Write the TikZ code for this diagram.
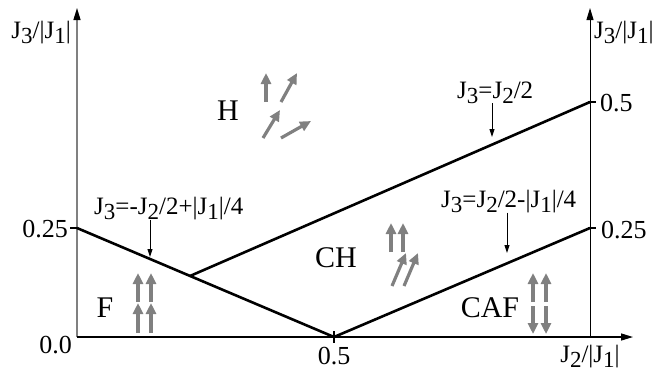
\documentclass[tikz,border=0pt]{standalone}
\usepackage{fontspec}
\setmainfont{Liberation Serif}
\usetikzlibrary{arrows.meta,calc}
\newcommand{\lo}[1]{\raisebox{-5pt}{\scalebox{0.92}{#1}}}

\begin{document}
\begin{tikzpicture}[x=1pt,y=-1pt,
    axis/.style={line width=1.3pt,-{Triangle[length=12pt,width=7pt,color=black]}},
    bound/.style={line width=2.6pt},
    spin/.style={gray,line width=3.2pt,-{Triangle[length=11pt,width=10pt]}},
    pointer/.style={line width=1pt,-{Triangle[length=8pt,width=5pt]}},
    tick/.style={line width=1.3pt},
    txt/.style={inner sep=0pt,font=\fontsize{25}{29}\selectfont},
    num/.style={inner sep=0pt,font=\fontsize{26}{30}\selectfont},
    phase/.style={inner sep=0pt,font=\fontsize{30}{34}\selectfont}]

\useasboundingbox (0,0) rectangle (660,373);

\coordinate (O) at (77,337);
\coordinate (ytop) at (77,8);
\coordinate (xend) at (633,337);
\coordinate (R) at (590,337);
\coordinate (rtop) at (590,8);
\coordinate (A) at (77,228);
\coordinate (M) at (334,337);
\coordinate (X) at ($(A)!0.44!(M)$);
\coordinate (B) at (590,102);
\coordinate (C) at (590,228);

\draw[axis,gray] (O) -- (ytop);
\draw[axis] (O) -- (xend);
\draw[axis,line width=1pt] (R) -- (rtop);

\draw[tick] (70,228) -- (A);
\draw[tick] (334,331) -- (334,343);
\draw[tick] (588,102) -- (596,102);
\draw[tick] (588,228) -- (596,228);

\draw[bound] (A) -- (M) -- (C);
\draw[bound] (X) -- (B);

\node[txt, anchor=base east] (ylabL) at (71,38) {J\lo{3}/|J\lo{1}|};
\node[txt, anchor=base west] (ylabR) at (594,38) {J\lo{3}/|J\lo{1}|};
\node[txt, anchor=base] (xlab) at (590,362) {J\lo{2}/|J\lo{1}|};

\node[num, anchor=base east] (yq) at (68,237) {0.25};
\node[num, anchor=base east] (yz) at (72,353) {0.0};
\node[num, anchor=base] (xh) at (334,364) {0.5};
\node[num, anchor=base west] (rh) at (600,111) {0.5};
\node[num, anchor=base west] (rq) at (601,238) {0.25};

\node[phase, anchor=base] (H) at (228,120) {H};
\node[phase, anchor=base] (F) at (105,317) {F};
\node[phase, anchor=base] (CH) at (336,267) {CH};
\node[phase, anchor=base] (CAF) at (490,317) {CAF};

\node[txt, anchor=base west] (lab1) at (457,98) {J\lo{3}=J\lo{2}/2};
\node[txt, anchor=base west] (lab2) at (94,214) {J\lo{3}=-J\lo{2}/2+|J\lo{1}|/4};
\node[txt, anchor=base west] (lab3) at (441,207) {J\lo{3}=J\lo{2}/2-|J\lo{1}|/4};

\coordinate (p1) at (492,137);
\coordinate (p2) at (150,257);
\coordinate (p3) at (507,253);
\draw[pointer] (lab1.south -| p1) -- (p1);
\draw[pointer] (lab2.south -| p2) -- (p2);
\draw[pointer] (lab3.south -| p3) -- (p3);

\foreach \xa/\ya/\xb/\yb in {266/102/266/73, 281/102/297/73, 263/138/280/110, 281/138/311/121,
                   138/302/138/273, 151/302/151/273, 138/333/138/303, 151/333/151/303,
                   391/252/391/223, 403/252/403/223, 392/286/406/253, 404/286/418/253,
                   533/302/533/273, 546/302/546/273, 533/306/533/334, 546/306/546/334}
  \draw[spin] (\xa,\ya) -- (\xb,\yb);

\end{tikzpicture}
\end{document}
